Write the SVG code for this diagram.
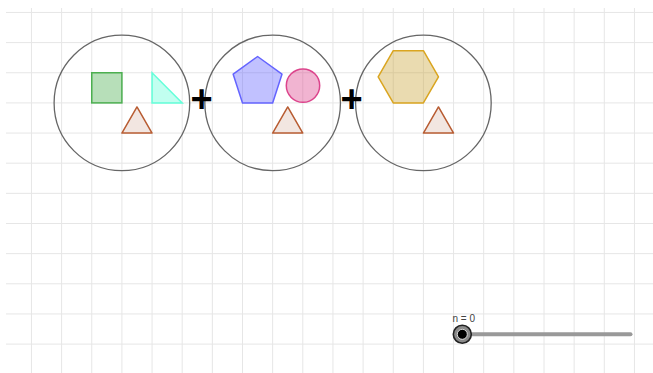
<svg xmlns="http://www.w3.org/2000/svg" width="653" height="373" viewBox="0 0 653 373">
<style>
.grid line{stroke:#e6e6e6;stroke-width:1}
.ring{fill:none;stroke:#666;stroke-width:1.3}
.tri{fill:#f2e6e1;stroke:#b85c32;stroke-width:1.5;stroke-linejoin:round}
.plus{font-family:"Liberation Sans",Arial,sans-serif;font-size:38px;font-weight:bold;fill:#000;text-anchor:middle}
.lbl{font-family:"Liberation Sans",Arial,sans-serif;font-size:10px;fill:#444}
</style>
<rect width="653" height="373" fill="#fff"/>
<g class="grid" id="grid">
<line x1="31.45" y1="8" x2="31.45" y2="373"/><line x1="61.6" y1="8" x2="61.6" y2="373"/><line x1="91.75" y1="8" x2="91.75" y2="373"/><line x1="121.9" y1="8" x2="121.9" y2="373"/><line x1="152.05" y1="8" x2="152.05" y2="373"/><line x1="182.2" y1="8" x2="182.2" y2="373"/><line x1="212.35" y1="8" x2="212.35" y2="373"/><line x1="242.5" y1="8" x2="242.5" y2="373"/><line x1="272.65" y1="8" x2="272.65" y2="373"/><line x1="302.8" y1="8" x2="302.8" y2="373"/><line x1="332.95" y1="8" x2="332.95" y2="373"/><line x1="363.1" y1="8" x2="363.1" y2="373"/><line x1="393.25" y1="8" x2="393.25" y2="373"/><line x1="423.4" y1="8" x2="423.4" y2="373"/><line x1="453.55" y1="8" x2="453.55" y2="373"/><line x1="483.7" y1="8" x2="483.7" y2="373"/><line x1="513.85" y1="8" x2="513.85" y2="373"/><line x1="544" y1="8" x2="544" y2="373"/><line x1="574.15" y1="8" x2="574.15" y2="373"/><line x1="604.3" y1="8" x2="604.3" y2="373"/><line x1="634.45" y1="8" x2="634.45" y2="373"/>
<line x1="6" y1="12.45" x2="653" y2="12.45"/><line x1="6" y1="42.6" x2="653" y2="42.6"/><line x1="6" y1="72.75" x2="653" y2="72.75"/><line x1="6" y1="102.9" x2="653" y2="102.9"/><line x1="6" y1="133.05" x2="653" y2="133.05"/><line x1="6" y1="163.2" x2="653" y2="163.2"/><line x1="6" y1="193.35" x2="653" y2="193.35"/><line x1="6" y1="223.5" x2="653" y2="223.5"/><line x1="6" y1="253.65" x2="653" y2="253.65"/><line x1="6" y1="283.8" x2="653" y2="283.8"/><line x1="6" y1="313.95" x2="653" y2="313.95"/><line x1="6" y1="344.1" x2="653" y2="344.1"/>
</g>
<g id="set1">
<circle class="ring" cx="121.9" cy="102.9" r="67.8"/>
<rect x="91.75" y="72.75" width="30.15" height="30.15" fill="#4caf50" fill-opacity="0.4" stroke="#4caf50" stroke-width="1.5"/>
<polygon points="152.05,72.75 152.05,102.9 182.2,102.9" fill="#64ffda" fill-opacity="0.4" stroke="#64ffda" stroke-width="1.5"/>
<polygon class="tri" points="121.9,133.05 152.05,133.05 136.98,106.94"/>
</g>
<g id="set2">
<circle class="ring" cx="272.65" cy="102.9" r="67.8"/>
<polygon points="242.5,102.9 272.65,102.9 281.97,74.23 257.58,56.5 233.18,74.23" fill="#6464ff" fill-opacity="0.4" stroke="#6464ff" stroke-width="1.5" stroke-linejoin="round"/>
<circle cx="303" cy="85.6" r="16.7" fill="#dc448c" fill-opacity="0.4" stroke="#dc448c" stroke-width="1.5"/>
<polygon class="tri" points="272.65,133.05 302.8,133.05 287.73,106.94"/>
</g>
<g id="set3">
<circle class="ring" cx="423.4" cy="102.9" r="67.8"/>
<polygon points="393.25,102.9 423.4,102.9 438.48,76.79 423.4,50.68 393.25,50.68 378.18,76.79" fill="#c8a030" fill-opacity="0.38" stroke="#daa520" stroke-width="1.5" stroke-linejoin="round"/>
<polygon class="tri" points="423.4,133.05 453.55,133.05 438.48,106.94"/>
</g>
<g id="plus1"><text class="plus" x="201.7" y="111.5">+</text></g>
<g id="plus2"><text class="plus" x="351.7" y="111.5">+</text></g>
<g id="slider">
<line x1="462.3" y1="334.3" x2="630.5" y2="334.3" stroke="#999" stroke-width="4" stroke-linecap="round"/>
<circle cx="462.3" cy="334.3" r="9" fill="#8a8a8a" stroke="#222" stroke-width="1.6"/>
<circle cx="462.3" cy="334.3" r="5" fill="#000" stroke="#fff" stroke-width="0.8"/>
<text class="lbl" x="452.5" y="321.5">n = 0</text>
</g>
</svg>
